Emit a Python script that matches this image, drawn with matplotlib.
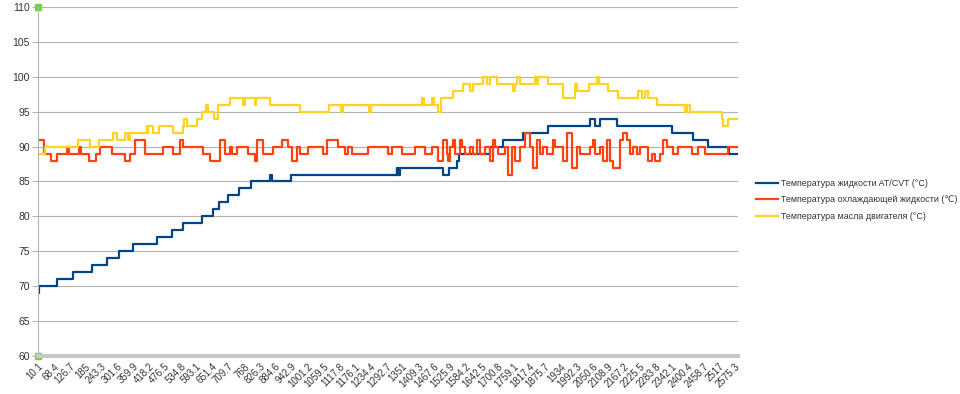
import matplotlib
matplotlib.use("Agg")
import matplotlib.pyplot as plt

plt.rcParams['font.family'] = ['Liberation Sans', 'DejaVu Sans']

# Температура жидкости AT/CVT: время смены значения и значение
at_t = [10.1, 12, 81, 138, 209, 264, 309, 359, 447, 502, 543, 615, 653, 677, 710, 750, 795,
        864, 871, 941, 1330, 1333, 1337, 1339, 1342, 1500, 1523, 1551, 1560, 1674, 1723,
        1796, 1888, 2042, 2060, 2079, 2140, 2342, 2422, 2477, 2553, 2586]
at_v = [69, 70, 71, 72, 73, 74, 75, 76, 77, 78, 79, 80, 81, 82, 83, 84, 85,
        86, 85, 86, 87, 86, 87, 86, 87, 86, 87, 88, 89, 90, 91,
        92, 93, 94, 93, 94, 93, 92, 91, 90, 89, 89]

# Температура охлаждающей жидкости
cool_t = [10.1, 32, 57, 81, 118, 125, 162, 167, 199, 224, 238, 281, 330, 349, 367, 404,
          471, 508, 533, 543, 618, 643, 680, 698, 717, 723, 741, 784, 809, 815, 839, 875,
          907, 930, 944, 962, 974, 1005, 1060, 1073, 1115, 1140, 1152, 1165, 1226, 1299,
          1312, 1349, 1398, 1434, 1459, 1483, 1502, 1514, 1518, 1526, 1539, 1545, 1563,
          1570, 1582, 1600, 1612, 1625, 1637, 1655, 1674, 1686, 1692, 1704, 1729, 1741,
          1754, 1766, 1784, 1803, 1821, 1833, 1846, 1858, 1870, 1882, 1907, 1913, 1943,
          1956, 1974, 1993, 2005, 2042, 2054, 2060, 2079, 2091, 2103, 2115, 2128, 2152,
          2164, 2177, 2189, 2201, 2214, 2226, 2256, 2269, 2281, 2299, 2312, 2324, 2348,
          2367, 2416, 2440, 2465, 2551, 2586]
cool_v = [91, 89, 88, 89, 90, 89, 90, 89, 88, 89, 90, 89, 88, 89, 91, 89,
          90, 89, 91, 90, 89, 88, 91, 89, 90, 89, 90, 89, 88, 91, 89, 90,
          91, 90, 88, 90, 89, 90, 89, 91, 90, 89, 90, 89, 90, 89,
          90, 89, 90, 89, 90, 88, 91, 89, 88, 90, 91, 89, 91,
          90, 89, 90, 89, 91, 89, 90, 88, 91, 90, 89, 90, 86,
          90, 88, 90, 92, 90, 87, 91, 89, 90, 89, 91, 90, 88,
          92, 87, 90, 89, 90, 91, 89, 90, 88, 91, 88, 87, 91,
          92, 91, 89, 90, 89, 90, 88, 89, 88, 89, 91, 90, 89,
          90, 89, 90, 89, 90, 90]

# Температура масла двигателя
oil_t = [10.1, 36, 158, 202, 235, 287, 302, 330, 340, 349, 410, 413, 416, 432, 457, 508,
         543, 547, 560, 596, 613, 628, 637, 658, 674, 717, 766, 772, 809, 814, 864, 974,
         1081, 1125, 1133, 1228, 1236, 1422, 1431, 1459, 1468, 1483, 1493, 1539, 1575,
         1600, 1612, 1649, 1662, 1674, 1698, 1759, 1766, 1772, 1784, 1839, 1846, 1850,
         1888, 1943, 1987, 1993, 2038, 2066, 2075, 2109, 2146, 2220, 2232, 2244, 2256,
         2287, 2391, 2398, 2410, 2526, 2531, 2551, 2586]
oil_v = [89, 90, 91, 90, 91, 92, 91, 92, 91, 92, 93, 92, 93, 92, 93, 92,
         93, 94, 93, 94, 95, 96, 95, 94, 96, 97, 96, 97, 96, 97, 96, 95,
         96, 95, 96, 95, 96, 97, 96, 97, 96, 95, 97, 98, 99,
         98, 99, 100, 99, 100, 99, 98, 99, 100, 99, 100, 99, 100,
         99, 97, 99, 98, 99, 100, 99, 98, 97, 98, 97, 98, 97,
         96, 95, 96, 95, 94, 93, 94, 94]

tick_pos = [10.1, 68.4, 126.7, 185, 243.3, 301.6, 359.9, 418.2, 476.5, 534.8, 593.1,
            651.4, 709.7, 768, 826.3, 884.6, 942.9, 1001.2, 1059.5, 1117.8, 1176.1,
            1234.4, 1292.7, 1351, 1409.3, 1467.6, 1525.9, 1584.2, 1642.5, 1700.8,
            1759.1, 1817.4, 1875.7, 1934, 1992.3, 2050.6, 2108.9, 2167.2, 2225.5,
            2283.8, 2342.1, 2400.4, 2458.7, 2517, 2575.3]
tick_labels = ['10.1', '68.4', '126.7', '185', '243.3', '301.6', '359.9', '418.2', '476.5',
               '534.8', '593.1', '651.4', '709.7', '768', '826.3', '884.6', '942.9',
               '1001.2', '1059.5', '1117.8', '1176.1', '1234.4', '1292.7', '1351',
               '1409.3', '1467.6', '1525.9', '1584.2', '1642.5', '1700.8', '1759.1',
               '1817.4', '1875.7', '1934', '1992.3', '2050.6', '2108.9', '2167.2',
               '2225.5', '2283.8', '2342.1', '2400.4', '2458.7', '2517', '2575.3']

labels = ['Температура жидкости AT/CVT (°C)',
          'Температура охлаждающей жидкости (℃)',
          'Температура масла двигателя (°C)']
colors = ['#004586', '#ff420e', '#ffd320']

fig = plt.figure(figsize=(9.6, 3.94), dpi=100)
ax = fig.add_axes([38 / 960, 38 / 394, 700 / 960, 349 / 394])

ax.step(at_t, at_v, where='post', color=colors[0], lw=1.6, label=labels[0])
ax.step(cool_t, cool_v, where='post', color=colors[1], lw=1.6, label=labels[1])
ax.step(oil_t, oil_v, where='post', color=colors[2], lw=1.6, label=labels[2])

ax.set_xlim(10.1, 2586.5)
ax.set_ylim(60, 110)
ax.set_yticks(range(60, 111, 5))
ax.yaxis.grid(True, color='#b3b3b3', lw=0.8)
ax.set_axisbelow(True)
ax.tick_params(axis='y', length=4, color='#b3b3b3', labelsize=7.5, labelcolor='#333333', pad=2)

ax.set_xticks(tick_pos)
ax.set_xticklabels(tick_labels, rotation=45, ha='right', va='top', rotation_mode='anchor')
ax.tick_params(axis='x', length=0, labelsize=7, labelcolor='#333333', pad=4)

for s in ['top', 'right']:
    ax.spines[s].set_visible(False)
ax.spines['left'].set_color('#b3b3b3')
ax.spines['bottom'].set_color('#c8c8c8')
ax.spines['bottom'].set_linewidth(3)

# маркеры концов оси
ax.plot([0, 0], [0, 1], 's', color='#7fcf3f', ms=4, transform=ax.transAxes, clip_on=False)

fig.legend(loc='center left', bbox_to_anchor=(756 / 960, 1 - 200 / 394), frameon=False,
           fontsize=6.4, handlelength=2.5, handletextpad=0.3, labelspacing=0.8,
           borderpad=0, borderaxespad=0, labelcolor='#333333')

fig.savefig('out.png', dpi=100)
